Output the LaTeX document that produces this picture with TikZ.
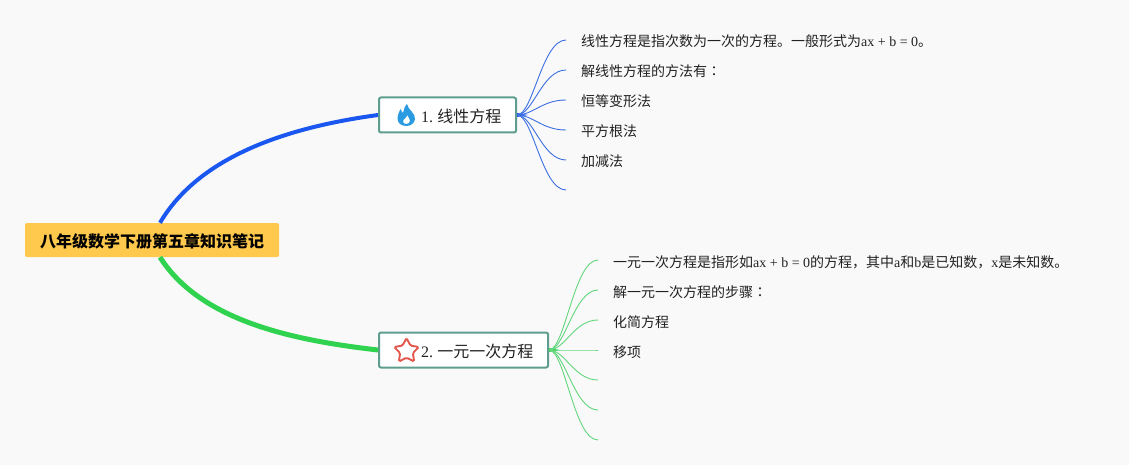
\documentclass[tikz,border=0pt]{standalone}
\usepackage{fontspec}
\setmainfont{Noto Sans CJK SC}
\newfontfamily\latfont{Liberation Serif}
\newfontfamily\jpfont{Noto Sans CJK JP}
\usetikzlibrary{shapes.geometric}
\definecolor{paper}{HTML}{F9F9F9}
\definecolor{rootfill}{HTML}{FFC94D}
\definecolor{topicline}{HTML}{5F9E8F}
\definecolor{bluemain}{HTML}{1A56F0}
\definecolor{greenmain}{HTML}{2FD34F}
\definecolor{bluetwig}{HTML}{3C6FE2}
\definecolor{greentwig}{HTML}{62D67C}
\definecolor{inktext}{HTML}{222222}
\definecolor{flameblue}{HTML}{2A9BE0}
\definecolor{starred}{HTML}{E2574C}
\tikzset{
    rootbox/.style  = {fill=rootfill, rounded corners=2pt, minimum width=254pt, minimum height=34pt, inner sep=0pt,
                       text height=15pt, text depth=0.5pt, font=\fontsize{16}{18}\selectfont\bfseries, text=black},
    topicbox/.style = {draw=topicline, line width=2pt, fill=white, rounded corners=2pt, minimum height=35pt, inner sep=0pt},
    topictext/.style = {anchor=west, inner sep=0pt, font=\fontsize{16}{18}\selectfont, text=inktext},
    leaftext/.style = {anchor=west, inner sep=0pt, inner xsep=15pt, text height=14.5pt, text depth=0.5pt,
                       font=\fontsize{14}{16}\selectfont, text=inktext},
    twig/.style     = {line width=0.9pt},
}
\newcommand{\lat}[1]{{\latfont #1}}
\begin{document}
\begin{tikzpicture}[x=1pt, y=-1pt]
    \fill[paper] (0,0) rectangle (1129,465);

    \node[rootbox] (root) at (152,240) {八年级数学下册第五章知识笔记};
    \node[topicbox, minimum width=137pt] (linear) at (447.5,115) {};
    \node[topicbox, minimum width=169pt] (oneone) at (463.5,350) {};
    \node[topictext] (lineartext) at (421,116) {\lat{1.}\hspace{4.2pt}线性方程};
    \node[topictext] (oneonetext) at (421,351) {\lat{2.}\hspace{4.2pt}一元一次方程};

    % main branches
    \draw[bluemain, line width=4pt] ([xshift=8pt]root.north) .. controls (200,155) and (290,127) .. (linear.west);
    \draw[greenmain, line width=5pt] ([xshift=8pt]root.south) .. controls (200,320) and (290,340) .. (oneone.west);

    % icons
    \fill[even odd rule, fill=flameblue] (407,104)
        .. controls (408,110) and (415.5,113) .. (415,119)
        .. controls (414.5,123) and (411,126) .. (406.5,126)
        .. controls (401,126) and (397.5,123) .. (397.5,118.5)
        .. controls (397.5,114) and (399.5,112) .. (400.5,109)
        .. controls (401.5,111) and (402,112) .. (403,113)
        .. controls (404,110) and (404,107) .. (407,104) -- cycle
        (407,115) .. controls (407,118) and (403,119) .. (403,121.5)
        .. controls (403,123) and (404.5,124) .. (406.5,124)
        .. controls (408.5,124) and (410,122.5) .. (410,120.5)
        .. controls (410,118.5) and (408,117) .. (407,115) -- cycle;
    \node[star, star points=5, star point ratio=1.95, draw=starred, line width=1.9pt, fill=white, rounded corners=1.5pt,
          minimum size=26pt, inner sep=0pt] (staricon) at (406.5,351) {};

    % leaves of the first topic
    \coordinate (linearhub) at (528,115);
    \fill[bluemain] ([yshift=2pt]linear.east) -- (linearhub) -- ([yshift=-2pt]linear.east) -- cycle;
    \foreach \ypos/\txt [count=\i] in {
        40/{线性方程是指次数为一次的方程。一般形式为\lat{ax + b = 0}。},
        70/{解线性方程的方法有{\jpfont ：}},
        100/{恒等变形法},
        130/{平方根法},
        160/{加减法}}{
      \node[leaftext] (linearleaf\i) at (566,\ypos) {\txt};
      \draw[bluetwig, twig] (linear.east) .. controls +(16,0) and +(-24,0) .. (linearleaf\i.west);
    }
    \coordinate (linearend) at (566,190);
    \draw[bluetwig, twig] (linear.east) .. controls +(16,0) and +(-24,0) .. (linearend);

    % leaves of the second topic
    \coordinate (oneonehub) at (560,350);
    \fill[greenmain] ([yshift=2pt]oneone.east) -- (oneonehub) -- ([yshift=-2pt]oneone.east) -- cycle;
    \foreach \ypos/\txt [count=\i] in {
        260/{一元一次方程是指形如\lat{ax + b = 0}的方程，其中\lat{a}和\lat{b}是已知数，\lat{x}是未知数。},
        290/{解一元一次方程的步骤{\jpfont ：}},
        320/{化简方程},
        350/{移项}}{
      \node[leaftext] (oneoneleaf\i) at (598,\ypos) {\txt};
      \draw[greentwig, twig] (oneone.east) .. controls +(16,0) and +(-24,0) .. (oneoneleaf\i.west);
    }
    \foreach \ypos [count=\i] in {380, 410, 440}{
      \coordinate (oneoneend\i) at (598,\ypos);
      \draw[greentwig, twig] (oneone.east) .. controls +(16,0) and +(-24,0) .. (oneoneend\i);
    }
\end{tikzpicture}
\end{document}
